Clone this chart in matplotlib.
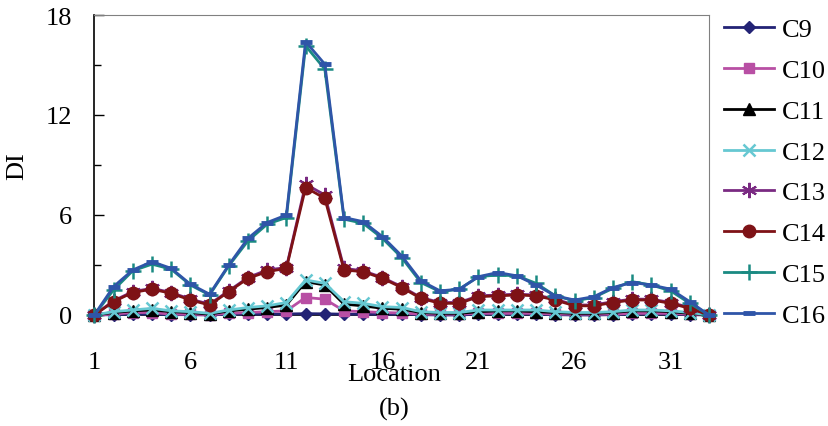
import numpy as np
import matplotlib
matplotlib.use("Agg")
import matplotlib.pyplot as plt
from matplotlib.ticker import FixedLocator, MultipleLocator

plt.rcParams['font.family'] = ['Liberation Serif', 'DejaVu Serif']

# DI values, locations 1..33
location = list(range(1, 34))
c9 = [0, 0.02, 0.05, 0.05, 0.02, 0.02, 0, 0.05, 0.05, 0.05, 0.06, 0.08, 0.07, 0.05, 0.05, 0.05, 0.05,
      0.02, 0, 0, 0.05, 0.05, 0.05, 0.05, 0.02, 0, 0, 0.02, 0.05, 0.05, 0.05, 0.02, 0]
c10 = [0, 0.05, 0.15, 0.15, 0.05, 0.05, 0.02, 0.1, 0.15, 0.2, 0.25, 1.05, 0.95, 0.25, 0.2, 0.15, 0.12,
       0.05, 0.05, 0.05, 0.1, 0.1, 0.1, 0.1, 0.05, 0.05, 0.05, 0.05, 0.1, 0.1, 0.1, 0.05, 0]
c11 = [0, 0.15, 0.25, 0.3, 0.2, 0.15, 0.05, 0.25, 0.35, 0.45, 0.6, 2.0, 1.8, 0.65, 0.55, 0.4, 0.35,
       0.15, 0.1, 0.1, 0.2, 0.25, 0.25, 0.2, 0.15, 0.1, 0.1, 0.15, 0.25, 0.25, 0.2, 0.1, 0]
c12 = [0, 0.2, 0.3, 0.4, 0.25, 0.2, 0.1, 0.3, 0.45, 0.55, 0.75, 2.1, 1.9, 0.8, 0.7, 0.5, 0.45,
       0.2, 0.15, 0.15, 0.3, 0.3, 0.3, 0.3, 0.2, 0.15, 0.15, 0.2, 0.3, 0.3, 0.25, 0.15, 0]
c13 = [0, 0.85, 1.4, 1.6, 1.35, 0.95, 0.65, 1.45, 2.25, 2.7, 2.85, 7.85, 7.2, 2.8, 2.65, 2.25, 1.7,
       1.05, 0.75, 0.75, 1.15, 1.2, 1.25, 1.2, 0.95, 0.6, 0.6, 0.8, 0.95, 0.95, 0.75, 0.45, 0]
c14 = [0, 0.8, 1.35, 1.55, 1.3, 0.9, 0.6, 1.4, 2.2, 2.6, 2.8, 7.65, 7.0, 2.7, 2.6, 2.2, 1.65,
       1.0, 0.7, 0.7, 1.1, 1.15, 1.2, 1.15, 0.9, 0.55, 0.55, 0.75, 0.9, 0.9, 0.7, 0.4, 0]
c15 = [0, 1.5, 2.65, 3.05, 2.75, 1.8, 1.2, 2.95, 4.45, 5.45, 5.85, 16.15, 14.75, 5.75, 5.5, 4.6, 3.45,
       1.95, 1.4, 1.55, 2.3, 2.4, 2.35, 1.9, 1.15, 0.85, 1.05, 1.6, 2.0, 1.8, 1.45, 0.7, 0]
c16 = [0, 1.7, 2.7, 3.2, 2.8, 1.85, 1.25, 3.0, 4.6, 5.55, 6.0, 16.4, 15.05, 5.85, 5.6, 4.7, 3.55,
       2.05, 1.45, 1.55, 2.3, 2.55, 2.35, 1.8, 1.15, 0.9, 1.1, 1.65, 1.95, 1.8, 1.55, 0.8, 0]

series = [
    ('C9', c9, '#232375', 'D', 6, 1),
    ('C10', c10, '#b84fa4', 's', 7, 1),
    ('C11', c11, '#000000', '^', 8, 1),
    ('C12', c12, '#66c8d2', 'x', 8, 1.8),
    ('C13', c13, '#7a2a82', (6, 2, 0), 11, 1.5),
    ('C14', c14, '#7e1216', 'o', 9, 1),
    ('C15', c15, '#1a8a82', '+', 11, 1.8),
    ('C16', c16, '#2f55a8', '_', 8, 3.5),
]

fig = plt.figure(figsize=(8.29, 4.27), dpi=100)
ax = fig.add_axes([94.3 / 829, 1 - 316 / 427, (709 - 94.3) / 829, 300 / 427])

for name, vals, col, mk, ms, mew in series:
    ax.plot(location, vals, color=col, lw=2, marker=mk, ms=ms, mew=mew,
            mfc=col, mec=col, label=name, clip_on=False, zorder=3)

ax.set_xlim(1, 33)
ax.set_ylim(0, 18)
ax.xaxis.set_major_locator(FixedLocator([1, 6, 11, 16, 21, 26, 31]))
ax.xaxis.set_minor_locator(MultipleLocator(1))
ax.yaxis.set_major_locator(MultipleLocator(6))
ax.yaxis.set_minor_locator(MultipleLocator(3))
ax.tick_params(axis='both', which='both', direction='in', labelsize=19, width=1)
ax.tick_params(axis='x', which='both', length=5, pad=26)
ax.tick_params(axis='y', which='major', length=7, pad=16)
ax.tick_params(axis='y', which='minor', length=5)
ax.tick_params(axis='x', which='minor', labelbottom=False)

for s in ['top', 'right']:
    ax.spines[s].set_color('#808080')
for s in ['left', 'bottom']:
    ax.spines[s].set_color('black')
    ax.spines[s].set_linewidth(1.2)

fig.text(394 / 829, 1 - 375 / 427, 'Location', ha='center', va='center', fontsize=19)
fig.text(394 / 829, 1 - 409 / 427, '(b)', ha='center', va='center', fontsize=19)
fig.text(17 / 829, 1 - 166 / 427, 'DI', ha='center', va='center', fontsize=19, rotation=90)

ax.legend(loc='upper left', bbox_to_anchor=(724 / 829, 1 - 19 / 427), bbox_transform=fig.transFigure,
          frameon=False, fontsize=19, handlelength=1.9, handletextpad=0.3, labelspacing=0.655,
          borderpad=0, borderaxespad=0)

fig.savefig('out.png', dpi=100)
